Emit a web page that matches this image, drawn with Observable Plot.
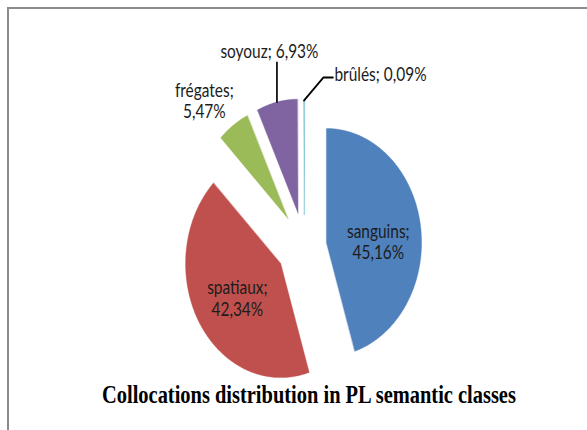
<!DOCTYPE html>
<html><head><meta charset="utf-8">
<script src="https://cdn.jsdelivr.net/npm/d3@7"></script>
<script src="https://cdn.jsdelivr.net/npm/@observablehq/plot@0.6"></script>
<style>
html,body{margin:0;padding:0;background:#fff;overflow:hidden;width:587px;height:430px;}
#frame{position:absolute;left:7px;top:7px;right:-5px;bottom:-5px;border-left:2px solid #8c8c8c;border-top:2px solid #8c8c8c;}
#wrap{position:absolute;left:0;top:0;width:707px;height:430px;transform:scaleX(0.835);transform-origin:0 0;}
#wrap svg{max-width:none !important;width:707px;height:430px;display:block;}
</style></head><body><div id="frame"></div><div id="wrap"></div>
<script>
// ---- data ----
const categories = ["sanguins", "spatiaux", "frégates", "soyouz", "brûlés"];
const shares = [45.16, 42.34, 5.47, 6.93, 0.09];
const colors = ["#4f81bd", "#c0504d", "#9bbb59", "#8064a2", "#4bacc6"];
const title = "Collocations distribution in PL semantic classes";

// ---- layout / style ----
const W = 707, H = 430, R = 114, CX = 364, CY = 246;
const explode = [0.234, 0.29, 0.3, 0.3, 0.28];
const labelStyle = {
  "sanguins": {x: 0.777, y: 0.044, anchor: "middle", multi: true},
  "spatiaux": {x: -0.704, y: -0.452, anchor: "middle", multi: true},
  "frégates": {x: -1.051, y: 1.281, anchor: "middle", multi: true},
  "soyouz":   {x: -0.367, y: 1.711, anchor: "middle", multi: false},
  "brûlés":   {x: 0.316, y: 1.509, anchor: "start", multi: false}
};

const fmt = v => v.toFixed(2).replace(".", ",") + "%";
const arcs = d3.pie().sort(null).value(d => d)(shares);

const wedgePts = [];
const geom = {};
arcs.forEach((p, i) => {
  const name = categories[i];
  const mid = (p.startAngle + p.endAngle) / 2;
  const ox = explode[i] * Math.sin(mid), oy = explode[i] * Math.cos(mid);
  geom[name] = {ox, oy, mid};
  wedgePts.push({name, x: ox, y: oy});
  const n = Math.max(2, Math.ceil((p.endAngle - p.startAngle) / 0.01));
  for (let k = 0; k <= n; k++) {
    const a = p.startAngle + (p.endAngle - p.startAngle) * k / n;
    wedgePts.push({name, x: ox + Math.sin(a), y: oy + Math.cos(a)});
  }
});

const labels = categories.map((name, i) => {
  const s = labelStyle[name];
  return {name, x: s.x, y: s.y, anchor: s.anchor,
          text: name + ";" + (s.multi ? "\n" : " ") + fmt(shares[i])};
});

// leader lines from the outer edge of the small slices to their labels
const gS = geom["soyouz"], gB = geom["brûlés"];
const sx0 = gS.ox + Math.sin(gS.mid), sy0 = gS.oy + Math.cos(gS.mid);
const bx0 = gB.ox + Math.sin(gB.mid), by0 = gB.oy + Math.cos(gB.mid);
const leaders = [
  {id: "s", x: sx0, y: sy0}, {id: "s", x: sx0, y: 1.614},
  {id: "b", x: bx0, y: by0}, {id: "b", x: 0.2, y: 1.482}, {id: "b", x: 0.3, y: 1.482}
];

const labelFont = "Lato, 'Open Sans', sans-serif";
const chart = Plot.plot({
  width: W, height: H,
  marginTop: 0, marginRight: 0, marginBottom: 0, marginLeft: 0,
  x: {domain: [-CX / R, (W - CX) / R], range: [0, W], axis: null},
  y: {domain: [-(H - CY) / R, CY / R], range: [H, 0], axis: null},
  color: {domain: categories, range: colors},
  style: {background: "transparent"},
  marks: [
    Plot.line(wedgePts, {x: "x", y: "y", z: "name", fill: "name", stroke: "name", strokeWidth: 0.4, curve: "linear-closed"}),
    Plot.line(leaders, {x: "x", y: "y", z: "id", stroke: "#000", strokeWidth: 2}),
    Plot.text(labels.filter(d => d.anchor === "middle"), {x: "x", y: "y", text: "text", textAnchor: "middle",
      fontSize: 18.5, lineHeight: 1.17, fontFamily: labelFont, fill: "#1c1c1c"}),
    Plot.text(labels.filter(d => d.anchor === "start"), {x: "x", y: "y", text: "text", textAnchor: "start",
      fontSize: 18.5, lineHeight: 1.17, fontFamily: labelFont, fill: "#1c1c1c"}),
    Plot.text([title], {frameAnchor: "bottom", dx: 16, dy: -28, lineAnchor: "bottom",
      fontFamily: "'Liberation Serif', 'Times New Roman', serif", fontWeight: "bold", fontSize: 24.5, fill: "#000"})
  ]
});
document.getElementById("wrap").appendChild(chart);
</script>
</body></html>
